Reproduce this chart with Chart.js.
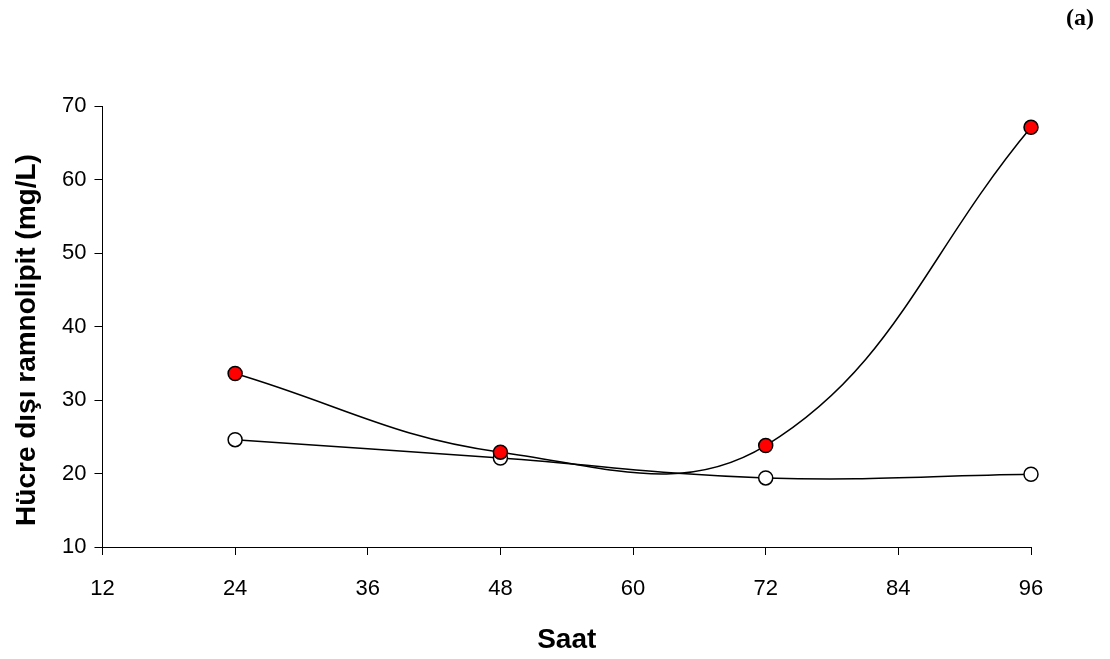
<html>
<head>
    <script src="https://cdn.jsdelivr.net/npm/chart.js@4/dist/chart.umd.min.js"></script>
    <style>
        html, body { margin: 0; padding: 0; background: #fff; }
        #chartcontainer { position: relative; width: 1110px; height: 659px; }
    </style>
</head>
<body>
    <div id="chartcontainer">
        <canvas id="canvas"></canvas>
    </div>
    <script>
        // hours
        var hours = [24, 48, 72, 96];
        // extracellular rhamnolipid (mg/L)
        var redSeries = [33.6, 22.9, 23.8, 67.1];
        var whiteSeries = [24.6, 22.1, 19.4, 19.9];
        var xTicks = [12, 24, 36, 48, 60, 72, 84, 96];
        var yTicks = [10, 20, 30, 40, 50, 60, 70];
        var yTitle = 'Hücre dışı ramnolipit (mg/L)';

        function toPoints(ys) {
            return hours.map(function (h, i) { return { x: h, y: ys[i] }; });
        }

        // panel letter and y title drawn by hand so they sit where the original has them
        var extraText = {
            id: 'extraText',
            afterDraw: function (chart) {
                var c = chart.ctx;
                c.save();
                c.fillStyle = '#000';
                c.font = 'bold 24px "Liberation Serif"';
                c.textAlign = 'right';
                c.textBaseline = 'middle';
                c.fillText('(a)', 1094, 19);

                c.translate(27, 340);
                c.rotate(-Math.PI / 2);
                c.font = 'bold 28px "Liberation Sans"';
                c.textAlign = 'center';
                c.fillText(yTitle, 0, 0);
                c.restore();
            }
        };

        var lineDefaults = {
            borderColor: '#000',
            borderWidth: 1.5,
            tension: 0.4,
            pointRadius: 7,
            pointBorderWidth: 1.5,
            pointBorderColor: '#000',
            fill: false,
            clip: false
        };

        var ctx = document.getElementById('canvas').getContext('2d');
        var chart = new Chart(ctx, {
            type: 'line',
            data: {
                datasets: [
                    Object.assign({ label: 'A', data: toPoints(redSeries), pointBackgroundColor: '#ff0000' }, lineDefaults),
                    Object.assign({ label: 'B', data: toPoints(whiteSeries), pointBackgroundColor: '#ffffff' }, lineDefaults)
                ]
            },
            options: {
                responsive: true,
                maintainAspectRatio: false,
                animation: false,
                layout: { padding: { top: 106, right: 79, left: 54, bottom: 2 } },
                plugins: {
                    legend: { display: false },
                    tooltip: { enabled: false }
                },
                scales: {
                    x: {
                        type: 'linear',
                        min: 12, max: 96,
                        afterBuildTicks: function (axis) { axis.ticks = xTicks.map(function (v) { return { value: v }; }); },
                        grid: { drawOnChartArea: false, drawTicks: true, tickLength: 8, color: '#000' },
                        border: { color: '#000', width: 1 },
                        ticks: { color: '#000', font: { family: 'Liberation Sans', size: 22 }, padding: 21, maxRotation: 0 },
                        title: { display: true, text: 'Saat', color: '#000', font: { family: 'Liberation Sans', size: 28, weight: 'bold' }, padding: { top: 0, bottom: 0 } }
                    },
                    y: {
                        min: 10, max: 70,
                        afterBuildTicks: function (axis) { axis.ticks = yTicks.map(function (v) { return { value: v }; }); },
                        grid: { drawOnChartArea: false, drawTicks: true, tickLength: 8, color: '#000' },
                        border: { color: '#000', width: 1 },
                        ticks: { color: '#000', font: { family: 'Liberation Sans', size: 22 }, padding: 8 }
                    }
                }
            },
            plugins: [extraText]
        });
    </script>
</body>
</html>
